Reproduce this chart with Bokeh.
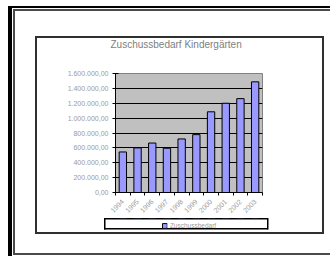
from math import pi
from bokeh.plotting import figure
from bokeh.layouts import column
from bokeh.models import Range1d, FixedTicker, Legend, LegendItem
from bokeh.embed import file_html
from bokeh.resources import INLINE

title_text = "Zuschussbedarf Kindergärten"
series_name = "Zuschussbedarf"
years = ["1994", "1995", "1996", "1997", "1998", "1999", "2000", "2001", "2002", "2003"]
values = [545000, 600000, 665000, 595000, 720000, 778000, 1085000, 1200000, 1262000, 1488000]
y_ticks = [0, 200000, 400000, 600000, 800000, 1000000, 1200000, 1400000, 1600000]
y_tick_labels = ["0,00", "200.000,00", "400.000,00", "600.000,00", "800.000,00",
                 "1.000.000,00", "1.200.000,00", "1.400.000,00", "1.600.000,00"]

FONT = "Liberation Sans"
GREY_TEXT = "#9a9a9a"
BAR_FILL = "#9999ff"
BAR_WIDTH = 0.5
centers = [i + 0.5 for i in range(len(years))]
bounds = list(range(len(years) + 1))

# decorative page frame, inner chart box and legend box (CSS background rectangles)
frame_rects = [
    (8, 6, 322, 2, "black"), (8, 6, 4, 250, "black"),
    (13, 9, 317, 2, "#4a4a4a"), (13, 9, 2, 246, "#4a4a4a"), (13, 253, 317, 2, "#4a4a4a"),
    (35, 36, 289, 2, "#303030"), (35, 36, 2, 198, "#303030"),
    (322, 36, 2, 198, "#303030"), (35, 232, 289, 2, "#303030"),
    (104, 218, 164, 1.5, "black"), (104, 228, 164, 1.5, "black"),
    (104, 218, 1.5, 11.5, "black"), (266.5, 218, 1.5, 11.5, "black"),
]
bg = ", ".join(f"linear-gradient({c}, {c}) {x}px {y}px / {w}px {h}px no-repeat"
               for x, y, w, h, c in frame_rects)

# ---- main chart ----
p = figure(width=330, height=218, output_backend="svg", toolbar_location=None,
           x_range=Range1d(0, len(years)), y_range=Range1d(0, y_ticks[-1]),
           min_border_left=115, min_border_right=68, min_border_top=73, min_border_bottom=26,
           background_fill_color="#c0c0c0", border_fill_alpha=0,
           outline_line_color="#808080", outline_line_width=1)

p.title.text = title_text
p.title.align = "left"
p.title.offset = -5
p.title.standoff = 48
p.title.text_font = FONT
p.title.text_font_size = "10px"
p.title.text_font_style = "normal"
p.title.text_color = "#808080"

r = p.vbar(x=centers, top=values, width=BAR_WIDTH, fill_color=BAR_FILL, line_color="black", line_width=1)

p.xgrid.visible = False
p.ygrid.ticker = FixedTicker(ticks=y_ticks)
p.ygrid.grid_line_color = "black"
p.ygrid.grid_line_width = 1

p.yaxis.ticker = FixedTicker(ticks=y_ticks)
p.yaxis.major_label_overrides = dict(zip(y_ticks, y_tick_labels))
p.yaxis.major_tick_in = 3
p.yaxis.major_tick_out = 3
p.yaxis.minor_tick_line_color = None
p.yaxis.major_label_standoff = 4
p.yaxis.major_label_text_font = FONT
p.yaxis.major_label_text_font_size = "7px"
p.yaxis.major_label_text_color = GREY_TEXT
p.yaxis.axis_line_color = "black"

p.xaxis.ticker = FixedTicker(ticks=centers, minor_ticks=bounds)
p.xaxis.major_label_overrides = dict(zip(centers, years))
p.xaxis.major_tick_line_color = None
p.xaxis.minor_tick_in = 0
p.xaxis.minor_tick_out = 3
p.xaxis.minor_tick_line_color = "black"
p.xaxis.major_label_orientation = pi / 4
p.xaxis.major_label_standoff = 2
p.xaxis.major_label_text_font = FONT
p.xaxis.major_label_text_font_size = "7px"
p.xaxis.major_label_text_color = GREY_TEXT
p.xaxis.axis_line_color = "black"

# ---- legend strip (own small plot so the legend is not clipped) ----
# the same series is drawn here, but entirely above this strip's y range; it only feeds the legend swatch
pl = figure(width=330, height=38, output_backend="svg", toolbar_location=None,
            x_range=Range1d(0, len(years)), y_range=Range1d(-2, -1),
            x_axis_type=None, y_axis_type=None,
            min_border_left=100, min_border_right=66, min_border_top=0, min_border_bottom=24,
            background_fill_alpha=0, border_fill_alpha=0, outline_line_color=None)
pl.xgrid.visible = False
pl.ygrid.visible = False
lr = pl.vbar(x=centers, top=values, width=BAR_WIDTH, fill_color=BAR_FILL, line_color="black", line_width=1)
legend = Legend(items=[LegendItem(label=series_name, renderers=[lr])], location="center",
                orientation="horizontal", padding=3, margin=0, spacing=0,
                glyph_width=6, glyph_height=6, label_standoff=3, label_height=7,
                label_text_font=FONT, label_text_font_size="6.5px", label_text_color=GREY_TEXT,
                border_line_color=None, background_fill_alpha=0)
pl.add_layout(legend)

layout = column(p, pl, spacing=0, styles={"background": bg})
open("out.html", "w").write(file_html(layout, INLINE))
